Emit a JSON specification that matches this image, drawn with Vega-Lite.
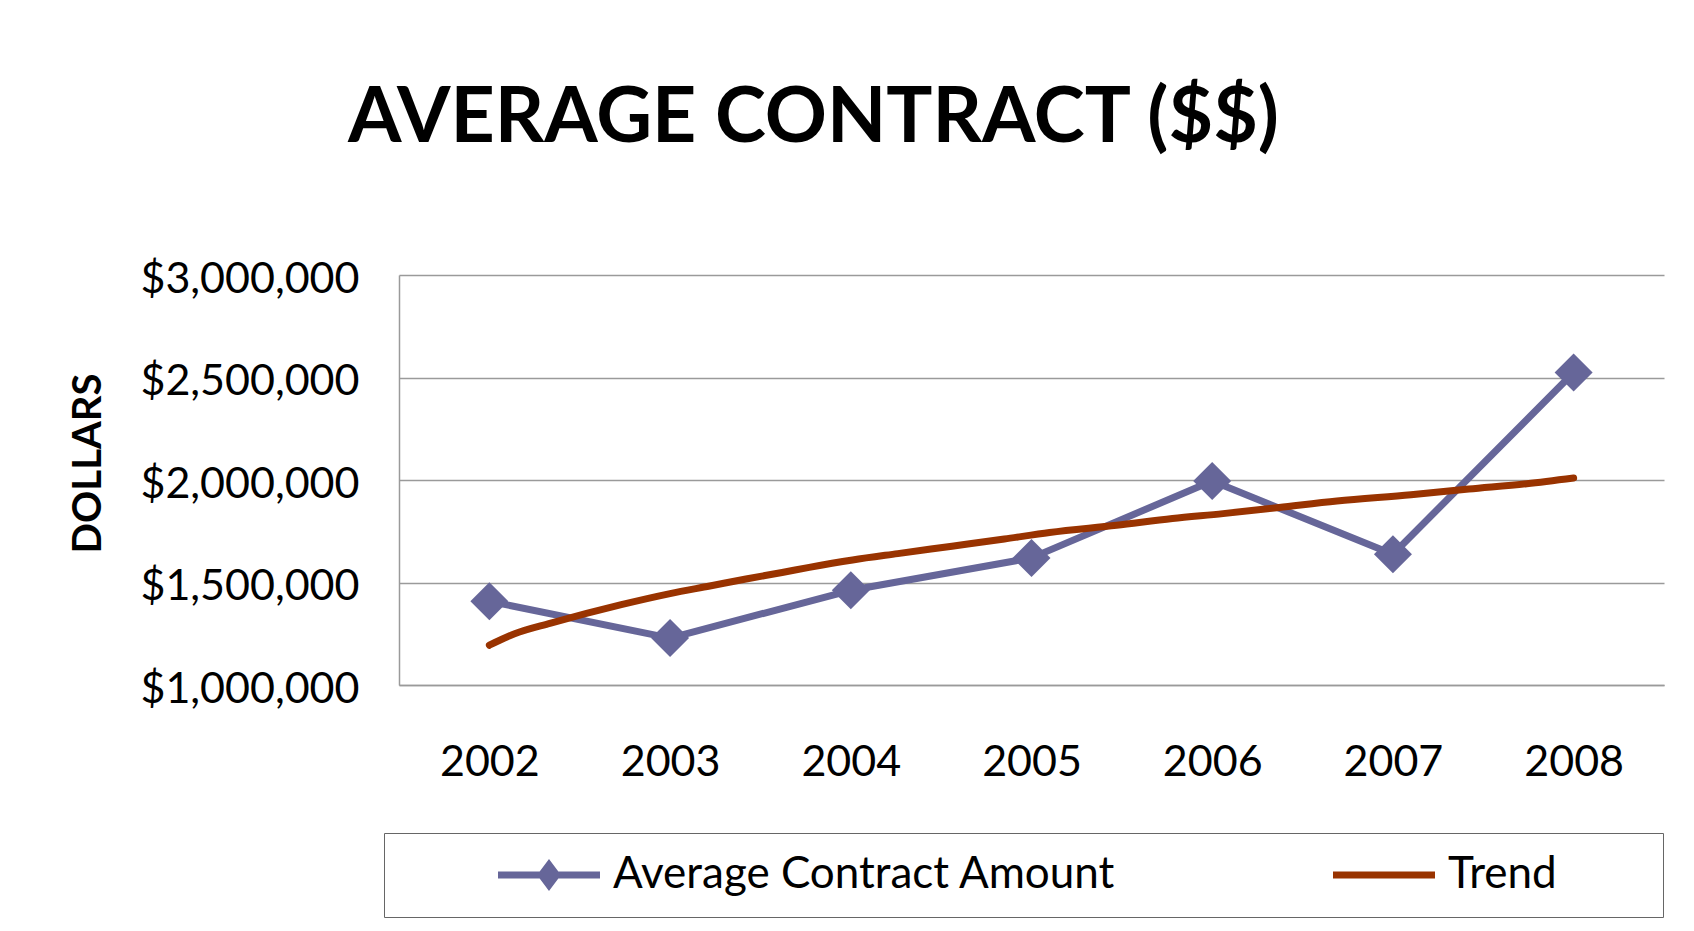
{
  "$schema": "https://vega.github.io/schema/vega-lite/v6.json",
  "width": 1265,
  "height": 410,
  "autosize": {"type": "none"},
  "padding": {"left": 399, "top": 275, "right": 30, "bottom": 246},
  "background": "white",
  "title": {
    "text": "AVERAGE CONTRACT ($$)",
    "font": "Lato",
    "fontWeight": "bold",
    "fontSize": 77,
    "color": "black",
    "anchor": "middle",
    "frame": "group",
    "dx": -218,
    "offset": 100
  },
  "config": {"view": {"stroke": null}, "font": "Lato"},
  "datasets": {
    "avg": [
      {"year": 2002, "value": 1408000, "series": "Average Contract Amount"},
      {"year": 2003, "value": 1229000, "series": "Average Contract Amount"},
      {"year": 2004, "value": 1462000, "series": "Average Contract Amount"},
      {"year": 2005, "value": 1620000, "series": "Average Contract Amount"},
      {"year": 2006, "value": 1995000, "series": "Average Contract Amount"},
      {"year": 2007, "value": 1638000, "series": "Average Contract Amount"},
      {"year": 2008, "value": 2524000, "series": "Average Contract Amount"}
    ],
    "trend": [
      {"year": 2002.0, "value": 1194000, "series": "Trend"},
      {"year": 2002.14, "value": 1250000, "series": "Trend"},
      {"year": 2002.34, "value": 1302000, "series": "Trend"},
      {"year": 2002.73, "value": 1392000, "series": "Trend"},
      {"year": 2003.0, "value": 1446000, "series": "Trend"},
      {"year": 2003.22, "value": 1483000, "series": "Trend"},
      {"year": 2003.42, "value": 1517000, "series": "Trend"},
      {"year": 2003.62, "value": 1549000, "series": "Trend"},
      {"year": 2003.77, "value": 1574000, "series": "Trend"},
      {"year": 2004.01, "value": 1610000, "series": "Trend"},
      {"year": 2004.26, "value": 1641000, "series": "Trend"},
      {"year": 2004.56, "value": 1677000, "series": "Trend"},
      {"year": 2004.85, "value": 1712000, "series": "Trend"},
      {"year": 2005.1, "value": 1744000, "series": "Trend"},
      {"year": 2005.47, "value": 1779000, "series": "Trend"},
      {"year": 2005.78, "value": 1812000, "series": "Trend"},
      {"year": 2006.06, "value": 1836000, "series": "Trend"},
      {"year": 2006.37, "value": 1866000, "series": "Trend"},
      {"year": 2006.69, "value": 1898000, "series": "Trend"},
      {"year": 2007.1, "value": 1928000, "series": "Trend"},
      {"year": 2007.42, "value": 1956000, "series": "Trend"},
      {"year": 2007.74, "value": 1982000, "series": "Trend"},
      {"year": 2008.0, "value": 2010000, "series": "Trend"}
    ]
  },
  "encoding": {
    "x": {
      "field": "year",
      "type": "quantitative",
      "scale": {"domain": [2001.5, 2008.5], "nice": false},
      "axis": {
        "values": [2002, 2003, 2004, 2005, 2006, 2007, 2008],
        "format": "d",
        "title": null,
        "grid": false,
        "ticks": false,
        "labelFont": "Lato",
        "labelFontSize": 43,
        "labelColor": "black",
        "labelPadding": 56,
        "domainColor": "#9a9a9a",
        "domainWidth": 1.5
      }
    },
    "y": {
      "field": "value",
      "type": "quantitative",
      "scale": {"domain": [1000000, 3000000], "nice": false},
      "axis": {
        "values": [1000000, 1500000, 2000000, 2500000, 3000000],
        "format": "$,.0f",
        "title": "DOLLARS",
        "titleFont": "Lato",
        "titleFontWeight": "bold",
        "titleFontSize": 40,
        "titleColor": "black",
        "titleX": -291,
        "titleY": 188,
        "ticks": false,
        "labelFont": "Lato",
        "labelFontSize": 43,
        "labelColor": "black",
        "labelLimit": 500,
        "labelPadding": 40,
        "labelOffset": 4,
        "gridColor": "#9a9a9a",
        "gridWidth": 1.5,
        "domainColor": "#9a9a9a",
        "domainWidth": 1.5
      }
    },
    "color": {
      "field": "series",
      "type": "nominal",
      "scale": {"domain": ["Average Contract Amount", "Trend"], "range": ["#666699", "#993300"]},
      "legend": {
        "orient": "none",
        "legendX": -15,
        "legendY": 558,
        "direction": "horizontal",
        "title": null,
        "strokeColor": "#666666",
        "fillColor": "white",
        "padding": 20,
        "labelFont": "Lato",
        "labelFontSize": 44,
        "labelColor": "black",
        "labelLimit": 1000,
        "columnPadding": 123,
        "symbolSize": 1156,
        "symbolStrokeWidth": 0,
        "symbolOffset": 89,
        "labelOffset": 76,
        "encode": {
          "symbols": {
            "update": {
              "shape": {"signal": "datum.value === 'Trend' ? 'M-1,-0.2L5,-0.2L5,0.2L-1,0.2ZM17.2,0' : 'M-1,-0.2L1.45,-0.2L2,-0.94L2.55,-0.2L5,-0.2L5,0.2L2.55,0.2L2,0.94L1.45,0.2L-1,0.2Z'"},
              "fill": {"signal": "datum.value === 'Trend' ? '#993300' : '#666699'"},
              "stroke": {"value": "transparent"},
              "opacity": {"value": 1}
            }
          }
        }
      }
    }
  },
  "layer": [
    {
      "data": {"name": "avg"},
      "mark": {"type": "line", "strokeWidth": 7, "strokeCap": "round", "strokeJoin": "round"}
    },
    {
      "data": {"name": "avg"},
      "mark": {"type": "point", "shape": "diamond", "filled": true, "size": 1444, "opacity": 1}
    },
    {
      "data": {"name": "trend"},
      "mark": {"type": "line", "strokeWidth": 7, "strokeCap": "round", "strokeJoin": "round", "interpolate": "monotone"}
    }
  ]
}
